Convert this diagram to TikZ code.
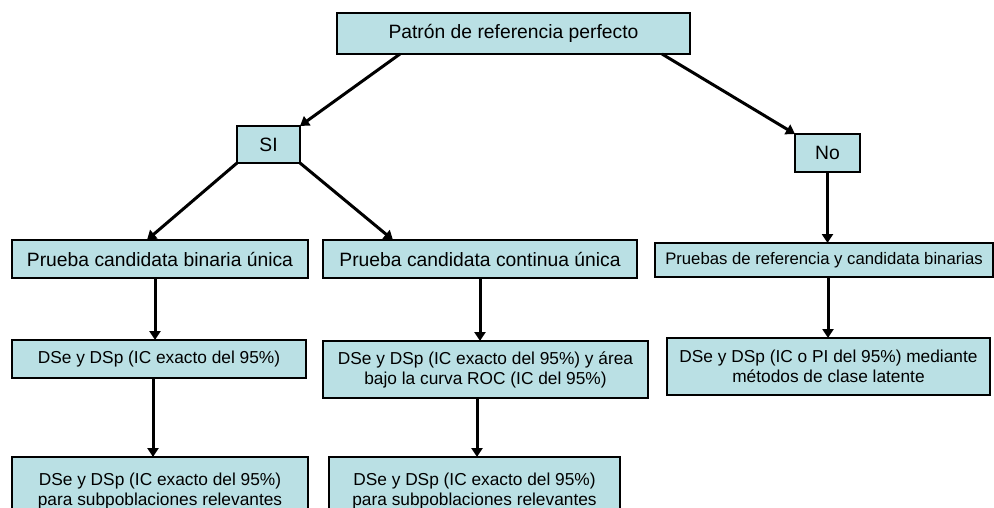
\documentclass[tikz,border=0pt]{standalone}
\usepackage{fontspec}
\setmainfont{Liberation Sans}
\usetikzlibrary{arrows.meta}
\definecolor{boxfill}{RGB}{186,224,228}
\tikzset{
  box/.style={draw=black, line width=2pt, fill=boxfill, rectangle, inner sep=0pt, outer sep=0pt, align=center, text=black},
  fbig/.style={font=\fontsize{19.3}{21}\selectfont},
  fmid/.style={font=\fontsize{17.3}{20}\selectfont},
  fsmall/.style={font=\fontsize{16.7}{20}\selectfont},
  arr/.style={line width=3pt, -{Triangle[length=9pt,width=11pt]}}
}
\begin{document}
\begin{tikzpicture}[x=1pt,y=-1pt]
\useasboundingbox (0,0) rectangle (994,508);
\clip (0,0) rectangle (994,508);
\node[box,fbig,minimum width=353pt,minimum height=41pt] (top) at (513.5,33.5) {Patrón de referencia perfecto};
\node[box,fbig,minimum width=63pt,minimum height=37pt] (si) at (268.5,144.5) {SI};
\node[box,fbig,minimum width=65pt,minimum height=38pt] (no) at (827.5,153) {No};
\node[box,fbig,minimum width=296pt,minimum height=38pt] (bin) at (160,259) {Prueba candidata binaria única};
\node[box,fbig,minimum width=314pt,minimum height=38pt] (cont) at (480,259) {Prueba candidata continua única};
\node[box,fsmall,minimum width=338pt,minimum height=34pt] (pru) at (824,260) {Pruebas de referencia y candidata binarias};
\node[box,fmid,minimum width=294pt,minimum height=38pt] (dse1) at (159,359) {DSe y DSp (IC exacto del 95\%)};
\node[box,fmid,minimum width=325pt,minimum height=57pt] (dse2) at (485.5,369.5) {DSe y DSp (IC exacto del 95\%) y área\\bajo la curva ROC (IC del 95\%)};
\node[box,fmid,minimum width=323pt,minimum height=57pt] (lat) at (828.5,366.5) {DSe y DSp (IC o PI del 95\%) mediante\\métodos de clase latente};
\node[box,fmid,minimum width=296pt,minimum height=62pt,anchor=north] (bot1) at (160,457) {};
\node[fmid,align=center,text=black] (bot1t) at (160,491) {DSe y DSp (IC exacto del 95\%)\\para subpoblaciones relevantes};
\node[box,fmid,minimum width=291pt,minimum height=62pt,anchor=north] (bot2) at (474.5,457) {};
\node[fmid,align=center,text=black] (bot2t) at (474.5,491) {DSe y DSp (IC exacto del 95\%)\\para subpoblaciones relevantes};

\draw[arr] ([xshift=63pt]top.south west) -- (si.north east);
\draw[arr] ([xshift=-28pt]top.south east) -- (no.north west);
\draw[arr] (si.south west) -- ([xshift=-13pt]bin.north);
\draw[arr] (si.south east) -- ([xshift=-87pt]cont.north);
\draw[arr] ([xshift=-5pt]bin.south) -- ([xshift=-5pt]bin.south |- dse1.north);
\draw[arr] ([xshift=-6pt]dse1.south) -- ([xshift=-6pt]dse1.south |- bot1.north);
\draw[arr] (cont.south) -- (cont.south |- dse2.north);
\draw[arr] ([xshift=-8.5pt]dse2.south) -- ([xshift=-8.5pt]dse2.south |- bot2.north);
\draw[arr] (no.south) -- (no.south |- pru.north);
\draw[arr] ([xshift=4pt]pru.south) -- ([xshift=4pt]pru.south |- lat.north);
\end{tikzpicture}
\end{document}
